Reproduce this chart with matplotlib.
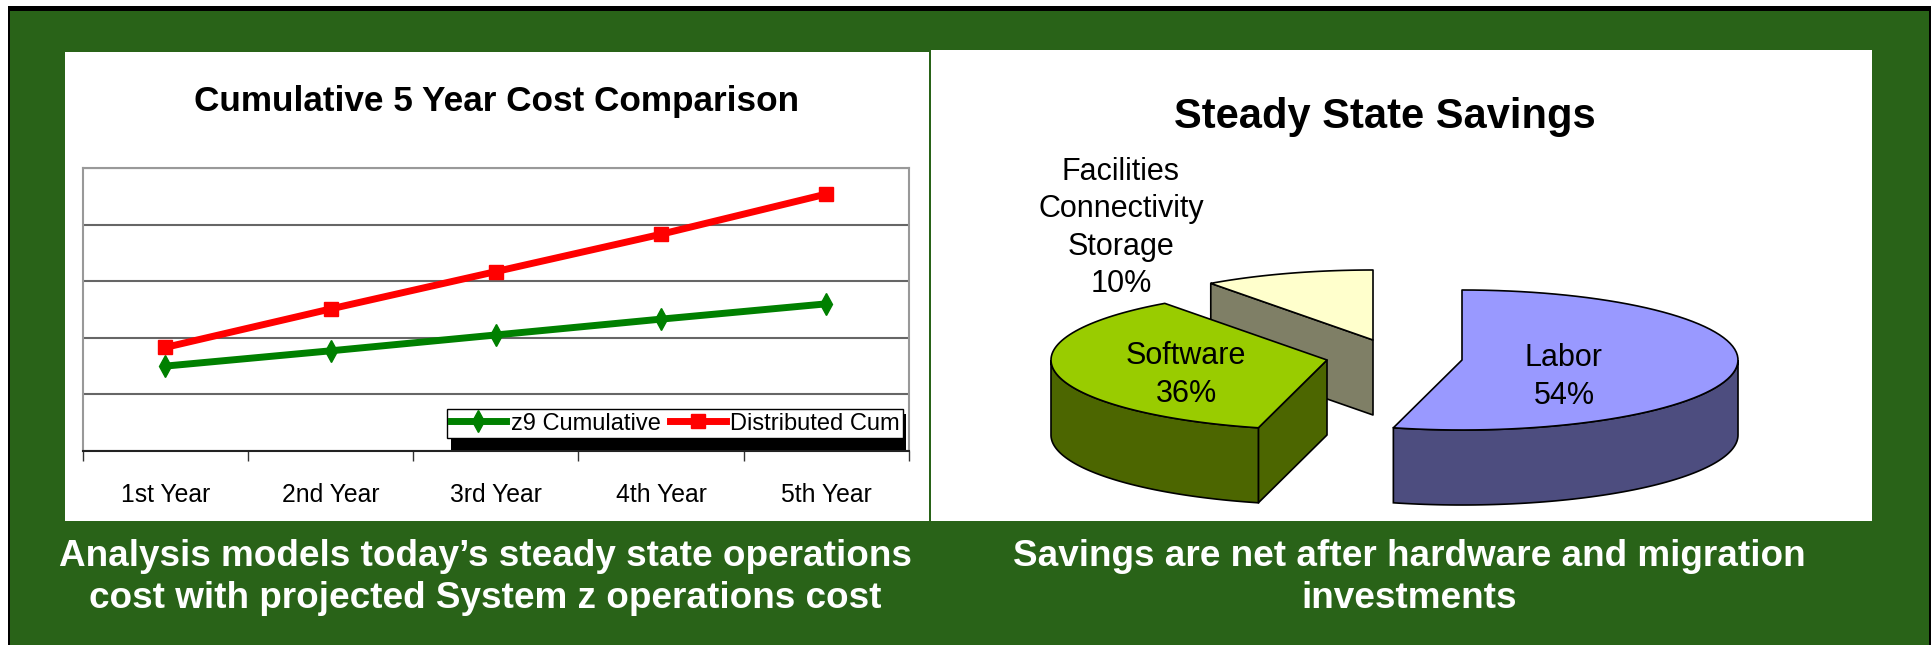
import numpy as np
import matplotlib
matplotlib.use('Agg')
import matplotlib.pyplot as plt
from matplotlib.patches import Rectangle, Polygon

# Datos
years = ['1st Year', '2nd Year', '3rd Year', '4th Year', '5th Year']
z9_cum = [1.50, 1.77, 2.05, 2.33, 2.60]
dist_cum = [1.83, 2.51, 3.17, 3.83, 4.54]
serie_names = ['z9 Cumulative', 'Distributed Cum']

pie_labels = ['Labor\n54%', 'Software\n36%', 'Facilities\nConnectivity\nStorage\n10%']
pie_shares = [54, 36, 10]

title_left = 'Cumulative 5 Year Cost Comparison'
title_right = 'Steady State Savings'
caption_left = ['Analysis models today\u2019s steady state operations',
                'cost with projected System z operations cost']
caption_right = ['Savings are net after hardware and migration', 'investments']

GREEN_BG = '#296318'
SANS = 'Liberation Sans'

W, H = 1933, 645
fig = plt.figure(figsize=(W / 100, H / 100), dpi=100, facecolor='white')

# capa en pixeles para el fondo y el pie
bg = fig.add_axes([0, 0, 1, 1], zorder=0)
bg.set_xlim(0, W)
bg.set_ylim(H, 0)
bg.axis('off')
bg.add_patch(Rectangle((8, 6), W - 10, H - 6, fc='black', ec='none'))
bg.add_patch(Rectangle((10, 11), W - 14, H - 11, fc=GREEN_BG, ec='none'))
bg.add_patch(Rectangle((65, 52), 864, 469, fc='white', ec='none'))
bg.add_patch(Rectangle((931, 50), 941, 471, fc='white', ec='none'))

bg.text(497, 102, title_left, family=SANS, weight='bold', fontsize=25.3, ha='center', va='center')
bg.text(1385, 117, title_right, family=SANS, weight='bold', fontsize=30, ha='center', va='center')
for i, y in enumerate([557, 599]):
    bg.text(485, y, caption_left[i], family=SANS, weight='bold', fontsize=26.6, color='white', ha='center', va='center')
    bg.text(1409, y, caption_right[i], family=SANS, weight='bold', fontsize=26.6, color='white', ha='center', va='center')

# Pie 3D: se calcula cada porcion desde su porcentaje
RX, RY, DEPTH = 276, 70, 75
centers = [(1462, 360), (1327, 360), (1373, 340)]
tops = ['#9999FF', '#99CC00', '#FFFFCC']
sides = ['#4D4D7F', '#4C6600', '#7F7F66']
label_pos = [(1564, 377), (1186, 375), (1121, 228)]

angles = np.cumsum([0] + pie_shares) / sum(pie_shares) * 2 * np.pi


def rim(cx, cy, a0, a1, n=80):
    t = np.linspace(a0, a1, n)
    return np.column_stack([cx + RX * np.sin(t), cy - RY * np.cos(t)])


for i in [2, 1, 0]:
    cx, cy = centers[i]
    a0, a1 = angles[i], angles[i + 1]
    arc = rim(cx, cy, a0, a1)
    down = np.array([0, DEPTH])
    # paredes de los cortes, solo las que miran hacia adelante
    if np.sin(a0) < -1e-6:
        p = arc[0]
        quad = np.array([[cx, cy], p, p + down, [cx, cy + DEPTH]])
        bg.add_patch(Polygon(quad, fc=sides[i], ec='black', lw=1.2, joinstyle='round'))
    if np.sin(a1) > 1e-6:
        p = arc[-1]
        quad = np.array([[cx, cy], p, p + down, [cx, cy + DEPTH]])
        bg.add_patch(Polygon(quad, fc=sides[i], ec='black', lw=1.2, joinstyle='round'))
    # pared exterior, solo la parte de adelante
    lo, hi = max(a0, np.pi / 2), min(a1, 3 * np.pi / 2)
    if hi > lo:
        front = rim(cx, cy, lo, hi)
        bg.add_patch(Polygon(np.vstack([front, front[::-1] + down]), fc=sides[i], ec='black', lw=1.2))
    bg.add_patch(Polygon(np.vstack([[cx, cy], arc]), fc=tops[i], ec='black', lw=1.2, joinstyle='round'))

for lab, (x, y) in zip(pie_labels, label_pos):
    bg.text(x, y, lab, family=SANS, fontsize=22, ha='center', va='center', linespacing=1.33)

# Grafico de lineas
x0, x1, y_top, y_bot = 82.7, 909, 168, 451
ax = fig.add_axes([x0 / W, 1 - y_bot / H, (x1 - x0) / W, (y_bot - y_top) / H], zorder=1)
ax.patch.set_alpha(0)
xs = np.arange(len(years))
ax.plot(xs, z9_cum, color='#008000', lw=5, marker='d', ms=11, label=serie_names[0])
ax.plot(xs, dist_cum, color='#FF0000', lw=5, marker='s', ms=10, label=serie_names[1])
ax.set_xlim(-0.5, 4.5)
ax.set_ylim(0, 5)
ax.set_xticks(np.arange(-0.5, 5))
ax.set_xticklabels([])
ax.set_xticks(xs, minor=True)
ax.set_xticklabels(years, minor=True, family=SANS, fontsize=17.8)
ax.tick_params(axis='x', which='major', length=7, width=1, color='#333333')
ax.tick_params(axis='x', which='minor', length=0, pad=23)
ax.set_yticks(range(6))
ax.set_yticklabels([])
ax.tick_params(axis='y', length=0)
ax.grid(axis='y', color='#666666', lw=1.5)
ax.set_axisbelow(True)
for s in ['top', 'left', 'right']:
    ax.spines[s].set_color('#999999')
    ax.spines[s].set_linewidth(1.5)
ax.spines['bottom'].set_color('#222222')
ax.spines['bottom'].set_linewidth(1.5)

# leyenda con sombra negra
ax.add_patch(Rectangle((451, 414), 455, 36, transform=bg.transData, fc='black', ec='none',
                       zorder=4, clip_on=False))
leg = ax.legend(ncol=2, loc='upper left', bbox_to_anchor=(447, 409), bbox_transform=bg.transData,
                fancybox=False, framealpha=1, edgecolor='black', facecolor='white',
                prop={'family': SANS, 'size': 17}, borderaxespad=0, borderpad=0.15,
                handlelength=2.35, handletextpad=0.2, columnspacing=0.4)
leg.get_frame().set_linewidth(1)
leg.set_zorder(5)

fig.savefig('out.png', dpi=100)
